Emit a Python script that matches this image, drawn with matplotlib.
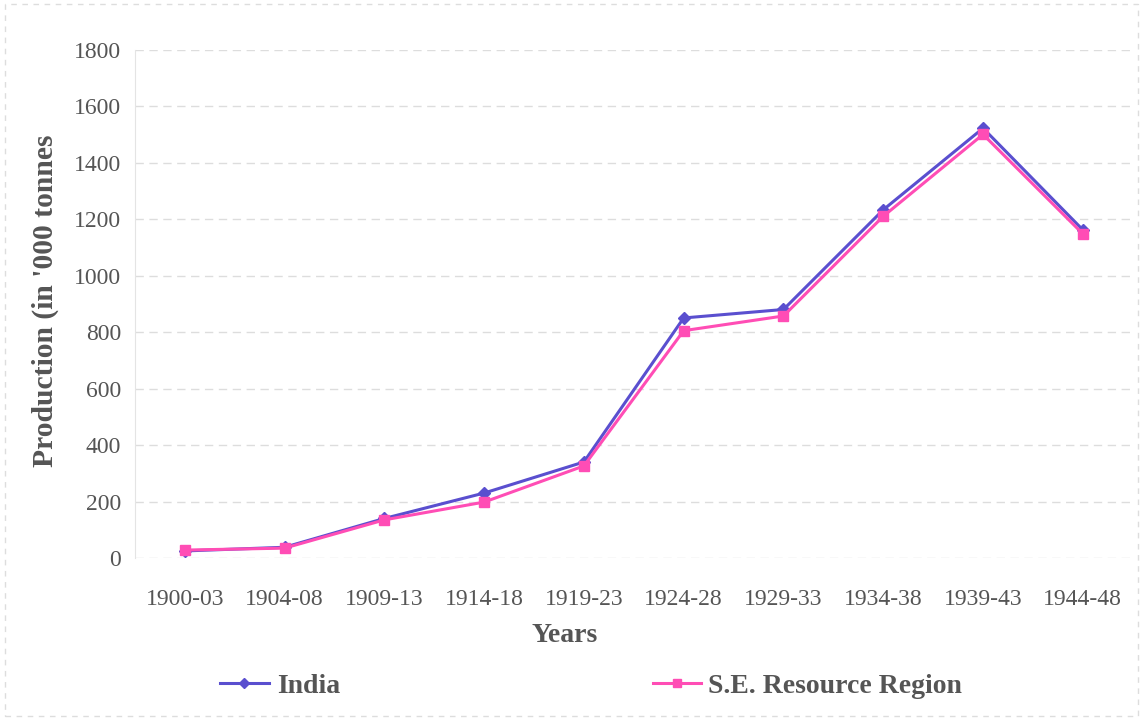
import matplotlib.pyplot as plt
from matplotlib.lines import Line2D

# 数据
years = ['1900-03', '1904-08', '1909-13', '1914-18', '1919-23',
         '1924-28', '1929-33', '1934-38', '1939-43', '1944-48']
india = [25, 38, 140, 230, 340, 850, 880, 1233, 1522, 1162]
se_region = [28, 35, 135, 198, 326, 805, 857, 1210, 1500, 1148]

india_color = '#5a4fcf'
se_color = '#ff4db5'
text_color = '#555555'

plt.rcParams['font.family'] = ['Liberation Serif', 'DejaVu Serif']

fig = plt.figure(figsize=(11.43, 7.2), dpi=100)
ax = fig.add_axes([0.118, 0.225, 0.873, 0.706])

x = list(range(len(years)))
ax.plot(x, india, color=india_color, marker='D', markersize=6, linewidth=2.2, label='India')
ax.plot(x, se_region, color=se_color, marker='s', markersize=7, linewidth=2.2,
        label='S.E. Resource Region')

ax.set_xlim(-0.5, len(years) - 0.5)
ax.set_ylim(0, 1800)
ax.set_yticks(range(0, 1801, 200))
ax.set_xticks(x)
ax.set_xticklabels(years)
ax.tick_params(axis='both', labelsize=17, colors=text_color, length=0)
ax.tick_params(axis='y', pad=10)
ax.tick_params(axis='x', pad=22)

# 网格线
ax.grid(axis='y', color='#dddddd', linestyle=(0, (6, 4)), linewidth=1)
ax.set_axisbelow(True)
for s in ['top', 'right', 'bottom']:
    ax.spines[s].set_visible(False)
ax.spines['left'].set_color('#e4e4e4')

ax.set_xlabel('Years', fontsize=20, fontweight='bold', color=text_color)
ax.xaxis.set_label_coords(0.431, -0.128)
ax.set_ylabel("Production (in '000 tonnes", fontsize=21.3, fontweight='bold',
              color=text_color)
ax.yaxis.set_label_coords(-0.076, 0.506)

# 图例（分两处放置）
h1 = Line2D([], [], color=india_color, marker='D', markersize=5, linewidth=2.2)
h2 = Line2D([], [], color=se_color, marker='s', markersize=6, linewidth=2.2)
leg1 = fig.legend([h1], ['India'], loc='center left', bbox_to_anchor=(0.1925, 0.047),
                  frameon=False, handlelength=1.75, handletextpad=0.3,
                  borderpad=0, borderaxespad=0,
                  prop={'weight': 'bold', 'size': 20})
for t in leg1.get_texts():
    t.set_color(text_color)
leg2 = fig.legend([h2], ['S.E. Resource Region'], loc='center left',
                  bbox_to_anchor=(0.571, 0.047), frameon=False, handlelength=1.75,
                  handletextpad=0.25, borderpad=0, borderaxespad=0,
                  prop={'weight': 'bold', 'size': 20})
for t in leg2.get_texts():
    t.set_color(text_color)

# 外框
fig.patches.append(plt.Rectangle((0.004, 0.006), 0.992, 0.988, transform=fig.transFigure,
                                 fill=False, edgecolor='#dddddd', linestyle=(0, (4, 4)),
                                 linewidth=1))

fig.savefig('out.png', dpi=100)
